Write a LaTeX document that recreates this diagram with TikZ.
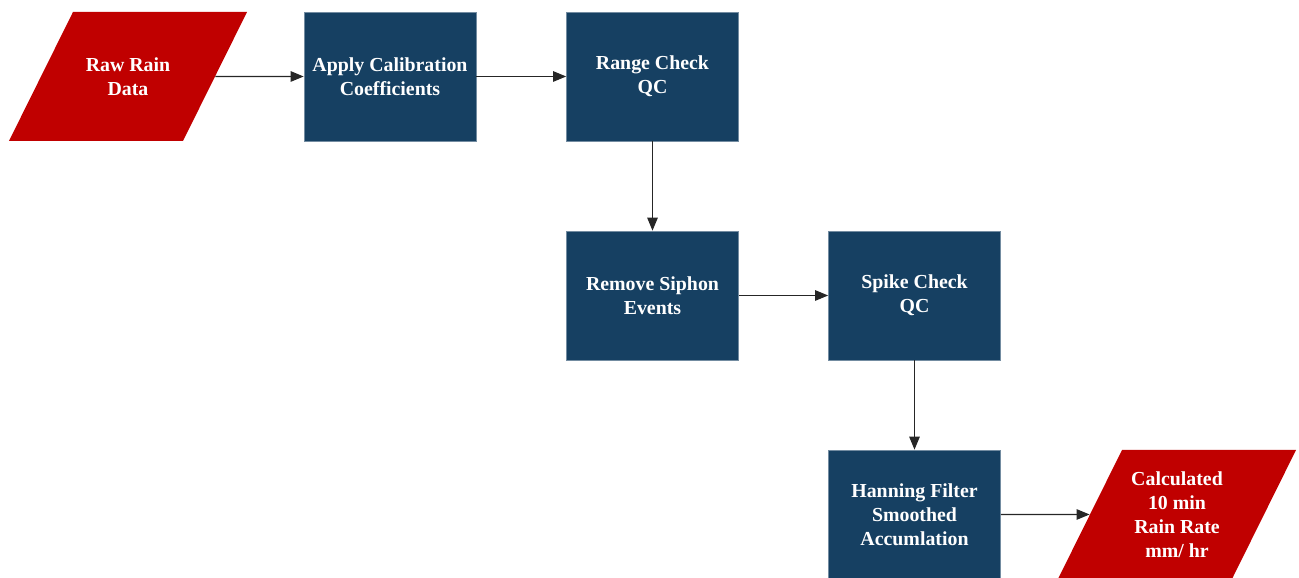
\documentclass[tikz,border=0pt]{standalone}
\usepackage{fontspec}
\setmainfont{Liberation Serif}
\usetikzlibrary{shapes.geometric,arrows.meta}
\definecolor{qcblue}{RGB}{22,64,98}
\definecolor{rawred}{RGB}{192,0,0}
\newcommand{\slantbox}[1]{\parbox[c][2.58cm][c]{2.2cm}{\centering #1}}

\begin{document}
\begin{tikzpicture}
        \tikzstyle{every node}=[text=white,font=\fontsize{11.3}{13.6}\selectfont\bfseries,align=center]
        \tikzstyle{proc}=[rectangle,fill=qcblue,draw=qcblue!60!white,line width=0.4pt,minimum width=3.44cm,minimum height=2.58cm]
        \tikzstyle{data}=[trapezium,trapezium left angle=63.6,trapezium right angle=116.4,trapezium stretches body,fill=rawred,minimum width=4.76cm,inner sep=0pt]
        \tikzstyle{flow}=[-{Triangle[length=2.6mm,width=2.1mm]},line width=0.6pt,black!85]
        \useasboundingbox (0,0) rectangle (25.98,11.56);
        \node[data] (raw) at (2.56,10.03) {\slantbox{Raw Rain\\Data}};
        \node[proc] (calib) at (7.8,10.03) {Apply Calibration\\Coefficients};
        \node[proc] (range) at (13.05,10.03) {Range Check\\QC};
        \node[proc] (siphon) at (13.05,5.65) {Remove Siphon\\Events};
        \node[proc] (spike) at (18.29,5.65) {Spike Check\\QC};
        \node[proc] (hanning) at (18.29,1.27) {Hanning Filter\\Smoothed\\Accumlation};
        \node[data] (rate) at (23.54,1.27) {\slantbox{Calculated\\10 min\\Rain Rate\\mm/ hr}};
        \draw[flow] (raw.east) -- (calib);
        \draw[flow] (calib) -- (range);
        \draw[flow] (range) -- (siphon);
        \draw[flow] (siphon) -- (spike);
        \draw[flow] (spike) -- (hanning);
        \draw[flow] (hanning) -- (rate.west);
\end{tikzpicture}
\end{document}
